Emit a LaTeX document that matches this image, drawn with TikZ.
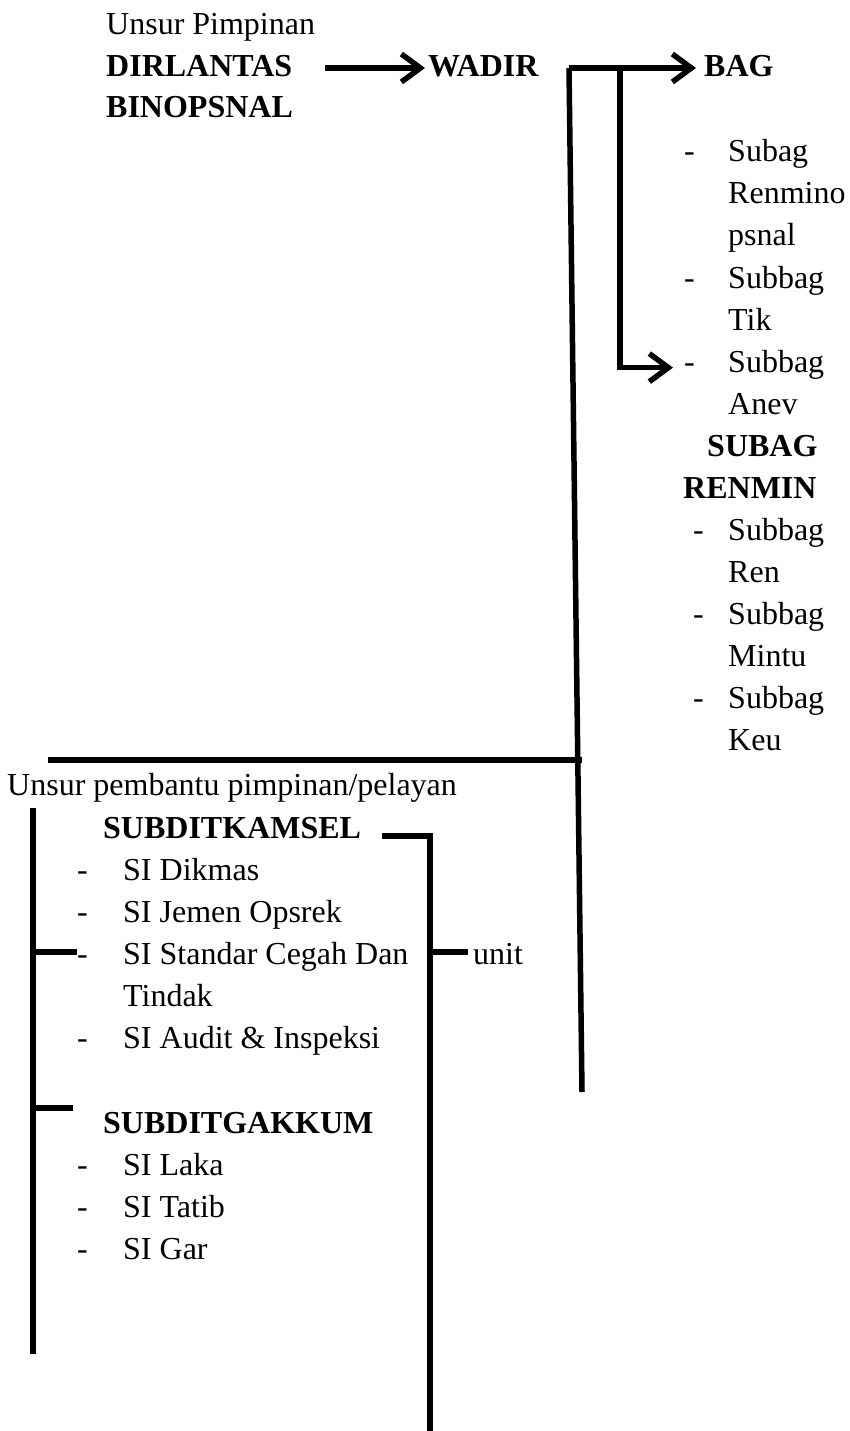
\documentclass[tikz,border=0pt]{standalone}
\usepackage{fontspec}
\setmainfont{Liberation Serif}
\usetikzlibrary{arrows.meta, positioning}

\begin{document}
\begin{tikzpicture}[
    x=1pt, y=-1pt,
    txt/.style={anchor=base west, inner sep=0pt, font=\fontsize{32}{38}\selectfont},
    head/.style={txt, font=\fontsize{32}{38}\selectfont\bfseries},
    bar/.style={line width=5.5pt},
    arrow/.style={bar, -{Straight Barb[length=19pt, width=28pt]}},
]
\useasboundingbox (0,0) rectangle (849,1431);

% unsur pimpinan
\node[txt] (pimpinan) at (106,35) {Unsur Pimpinan};
\node[head] (dir) at (106,77) {DIRLANTAS};
\node[head] (binops) at (106,118) {BINOPSNAL};
\node[head] (wadir) at (428,77) {WADIR};
\node[head] (bag) at (704,77) {BAG};

% bag list
\node[txt] (d1) at (684,162) {-};
\node[txt] (renmino1) at (728,162) {Subag};
\node[txt] (renmino2) at (728,204) {Renmino};
\node[txt] (renmino3) at (728,246) {psnal};
\node[txt] (d2) at (684,288) {-};
\node[txt] (tik1) at (728,288) {Subbag};
\node[txt] (tik2) at (728,330) {Tik};
\node[txt] (d3) at (684,372) {-};
\node[txt] (anev1) at (728,372) {Subbag};
\node[txt] (anev2) at (728,414) {Anev};

% subag renmin
\node[head] (subag) at (707,456) {SUBAG};
\node[head] (renmin) at (683,498) {RENMIN};
\node[txt] (d4) at (693,540) {-};
\node[txt] (ren1) at (728,540) {Subbag};
\node[txt] (ren2) at (728,582) {Ren};
\node[txt] (d5) at (693,624) {-};
\node[txt] (mintu1) at (728,624) {Subbag};
\node[txt] (mintu2) at (728,666) {Mintu};
\node[txt] (d6) at (693,708) {-};
\node[txt] (keu1) at (728,708) {Subbag};
\node[txt] (keu2) at (728,750) {Keu};

% unsur pembantu
\node[txt] (pembantu) at (7,795) {Unsur pembantu pimpinan/pelayan};
\node[head] (kamsel) at (103,838) {SUBDITKAMSEL};
\node[txt] (k1) at (77,880) {-};
\node[txt] (dikmas) at (123,880) {SI Dikmas};
\node[txt] (k2) at (77,922) {-};
\node[txt] (jemen) at (123,922) {SI Jemen Opsrek};
\node[txt] (k3) at (77,964) {-};
\node[txt] (standar1) at (123,964) {SI Standar Cegah Dan};
\node[txt] (standar2) at (123,1006) {Tindak};
\node[txt] (k4) at (77,1048) {-};
\node[txt] (audit) at (123,1048) {SI Audit \& Inspeksi};

\node[head] (gakkum) at (103,1133) {SUBDITGAKKUM};
\node[txt] (g1) at (77,1175) {-};
\node[txt] (laka) at (123,1175) {SI Laka};
\node[txt] (g2) at (77,1217) {-};
\node[txt] (tatib) at (123,1217) {SI Tatib};
\node[txt] (g3) at (77,1259) {-};
\node[txt] (gar) at (123,1259) {SI Gar};

\node[txt] (unit) at (473,964) {unit};

% corner points of the lines
\coordinate (dirend) at (325,68);
\coordinate (wtop) at (569,68);
\coordinate (wbot) at (582,1092);
\coordinate (btop) at (620,68);
\coordinate (hleft) at (48,760);
\coordinate (hright) at (582,760);
\coordinate (ltop) at (33,808);
\coordinate (lbot) at (33,1354);
\coordinate (lmid1) at (33,952);
\coordinate (lmid2) at (30,1108);
\coordinate (kend) at (382,836);
\coordinate (kcorner) at (430,836);
\coordinate (kbot) at (430,1431);
\coordinate (ujoin) at (430,952);

\draw[arrow] (dirend) -- ([xshift=-3pt]wadir.west |- dirend);
\draw[arrow] (wtop) -- ([xshift=-8pt]bag.west |- wtop);
\draw[bar] (wtop) -- (wbot);
\draw[arrow] (btop) |- ([xshift=-11pt]d3.west);
\draw[bar] (hleft) -- (hright);
\draw[bar] (ltop) -- (lbot);
\draw[bar] (lmid1) -- (k3.west |- lmid1);
\draw[bar] (lmid2) -- +(43,0);
\draw[bar] (kend) -- (kcorner) -- (kbot);
\draw[bar] (ujoin) -- ([xshift=-5pt]unit.west |- ujoin);
\end{tikzpicture}
\end{document}
